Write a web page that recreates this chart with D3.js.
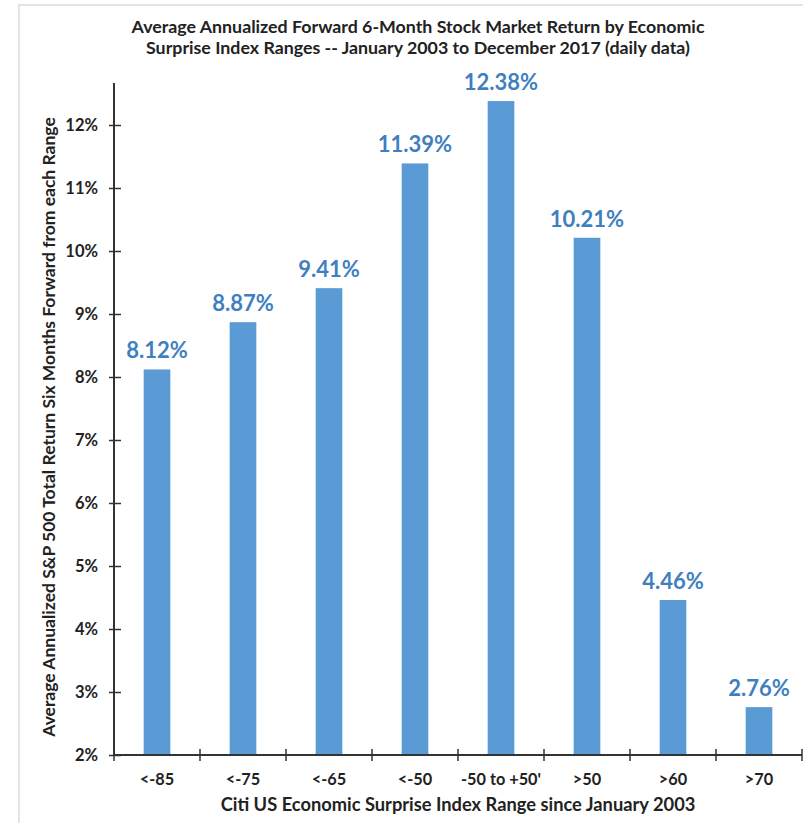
<!DOCTYPE html>
<html><head><meta charset="utf-8">
<script src="https://cdn.jsdelivr.net/npm/d3@7"></script>
<style>body{margin:0;background:#fff}svg{display:block}text{font-family:Lato,"Open Sans",sans-serif}</style>
</head><body><svg id="c" width="803" height="823"></svg>
<script>
const categories = ["<-85","<-75","<-65","<-50","-50 to +50'",">50",">60",">70"];
const values = [8.12, 8.87, 9.41, 11.39, 12.38, 10.21, 4.46, 2.76];
const yTicks = [2,3,4,5,6,7,8,9,10,11,12];
const titleLines = ["Average Annualized Forward 6-Month Stock Market Return by Economic","Surprise Index Ranges -- January 2003 to December 2017 (daily data)"];
const xTitle = "Citi US Economic Surprise Index Range since January 2003";
const yTitle = "Average Annualized S&P 500 Total Return Six Months Forward from each Range";

const svg = d3.select("#c");
// frame
svg.append("line").attr("x1",18).attr("x2",803).attr("y1",5).attr("y2",5).attr("stroke","#e4e4e4").attr("stroke-width",2);
svg.append("line").attr("x1",19).attr("x2",19).attr("y1",5).attr("y2",823).attr("stroke","#e4e4e4").attr("stroke-width",2);

const x = d3.scaleBand().domain(categories).range([114,802]).paddingInner(0.69).paddingOuter(0.345);
const y = d3.scaleLinear().domain([2,12]).range([755,125]);

svg.append("g").selectAll("text").data(titleLines).join("text")
  .attr("x",418).attr("y",(d,i)=>33+i*21).attr("text-anchor","middle")
  .attr("font-size",17.8).attr("font-weight","bold").attr("fill","#222").text(d=>d);

svg.append("g").selectAll("rect").data(values).join("rect")
  .attr("x",(d,i)=>x(categories[i])).attr("width",x.bandwidth())
  .attr("y",d=>y(d)).attr("height",d=>y(2)-y(d)).attr("fill","#5b9bd5");

svg.append("g").selectAll("text").data(values).join("text")
  .attr("x",(d,i)=>x(categories[i])+x.bandwidth()/2).attr("y",d=>y(d)-11)
  .attr("text-anchor","middle").attr("font-size",22).attr("font-weight","bold").attr("fill","#3f7fc0")
  .text(d=>d.toFixed(2)+"%");

// y axis
const ya = svg.append("g").attr("transform","translate(114,0)")
  .call(d3.axisLeft(y).tickValues(yTicks).tickFormat(d=>d+"%").tickSizeInner(5).tickSizeOuter(0).tickPadding(11));
ya.select(".domain").attr("d","M0,83V755").attr("stroke","#333").attr("stroke-width",2);
ya.selectAll(".tick line").attr("x1",-5).attr("x2",7).attr("stroke","#333").attr("stroke-width",1.5);
ya.selectAll(".tick text").attr("font-size",16.5).attr("font-weight","bold").attr("fill","#222").attr("font-family","Lato,sans-serif");

// x axis
const xa = svg.append("g").attr("transform","translate(0,755)")
  .call(d3.axisBottom(x).tickSize(0).tickPadding(18));
xa.select(".domain").attr("stroke","#333").attr("stroke-width",2).attr("d","M114,0H802");
xa.selectAll(".tick text").attr("font-size",16.3).attr("font-weight","bold").attr("fill","#222").attr("font-family","Lato,sans-serif");
const bounds = categories.map(c=>x(c)-x.step()*x.paddingInner()/2).concat([802]);
svg.append("g").selectAll("line").data(bounds).join("line")
  .attr("x1",d=>d).attr("x2",d=>d).attr("y1",749).attr("y2",761).attr("stroke","#333").attr("stroke-width",1.5);

svg.append("text").attr("x",458).attr("y",811).attr("text-anchor","middle")
  .attr("font-size",18.3).attr("font-weight","bold").attr("fill","#222").text(xTitle);
svg.append("text").attr("transform","translate(55,427) rotate(-90)").attr("text-anchor","middle")
  .attr("font-size",17.5).attr("font-weight","bold").attr("fill","#222").text(yTitle);
</script></body></html>
